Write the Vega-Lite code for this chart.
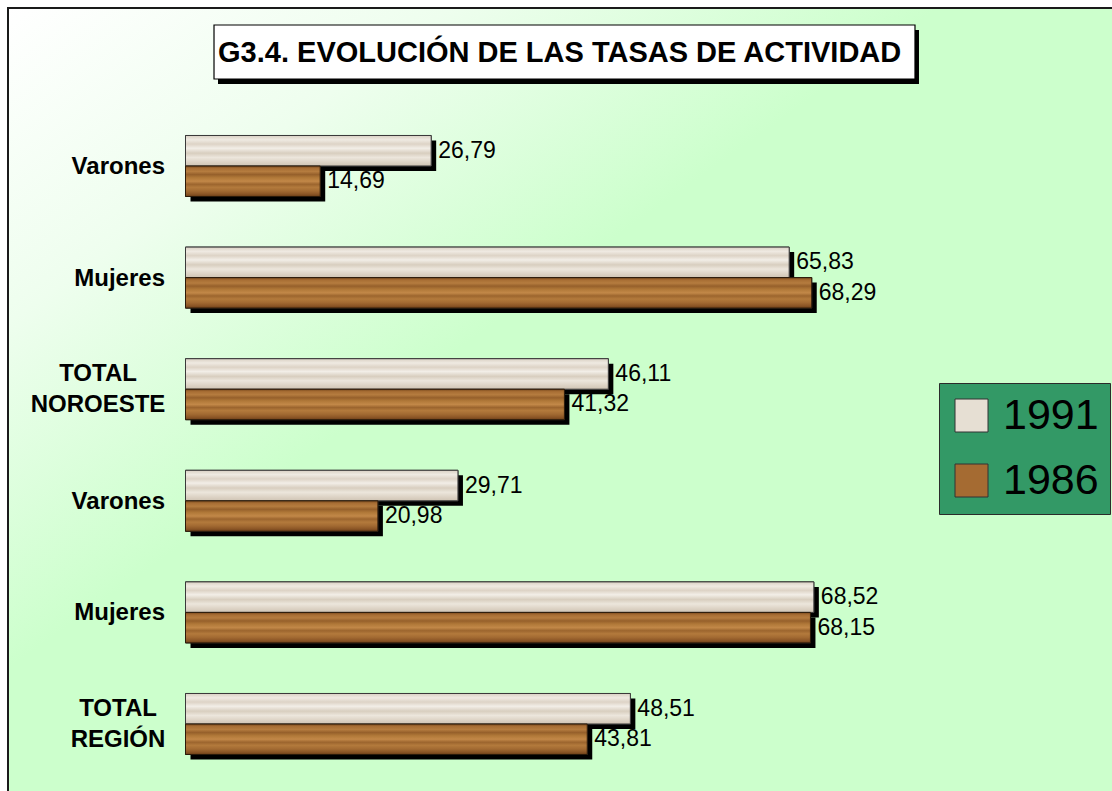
{
  "$schema": "https://vega.github.io/schema/vega-lite/v6.json",
  "autosize": "none",
  "width": 1108,
  "height": 787,
  "padding": {"left": 8, "top": 8, "right": -4, "bottom": -4},
  "background": "#ffffff",
  "view": {
    "fill": {"gradient": "linear", "x1": 0, "y1": 0, "x2": 1, "y2": 1,
      "stops": [
        {"offset": 0, "color": "#ffffff"},
        {"offset": 0.2, "color": "#eefeee"},
        {"offset": 0.42, "color": "#ccffcc"},
        {"offset": 1, "color": "#ccffcc"}
      ]},
    "stroke": "#1a1a1a",
    "strokeWidth": 2
  },
  "config": {
    "font": "Liberation Sans",
    "locale": {"number": {"decimal": ",", "thousands": ".", "grouping": [3], "currency": ["", " €"]}}
  },
  "data": {"values": [
    {"cat": "Varones|Noroeste", "anio": "1991", "tasa": 26.79},
    {"cat": "Varones|Noroeste", "anio": "1986", "tasa": 14.69},
    {"cat": "Mujeres|Noroeste", "anio": "1991", "tasa": 65.83},
    {"cat": "Mujeres|Noroeste", "anio": "1986", "tasa": 68.29},
    {"cat": "TOTAL NOROESTE", "anio": "1991", "tasa": 46.11},
    {"cat": "TOTAL NOROESTE", "anio": "1986", "tasa": 41.32},
    {"cat": "Varones|Región", "anio": "1991", "tasa": 29.71},
    {"cat": "Varones|Región", "anio": "1986", "tasa": 20.98},
    {"cat": "Mujeres|Región", "anio": "1991", "tasa": 68.52},
    {"cat": "Mujeres|Región", "anio": "1986", "tasa": 68.15},
    {"cat": "TOTAL REGIÓN", "anio": "1991", "tasa": 48.51},
    {"cat": "TOTAL REGIÓN", "anio": "1986", "tasa": 43.81}
  ]},
  "resolve": {"scale": {"y": "independent"}, "axis": {"y": "independent"}},
  "layer": [
    {
      "layer": [
        {
          "data": {"values": [{"titulo": "G3.4. EVOLUCIÓN DE LAS TASAS DE ACTIVIDAD"}]},
          "mark": {"type": "bar", "color": "#000000", "height": {"band": 0.885}, "yOffset": -2.4, "xOffset": 4, "x2Offset": 4},
          "encoding": {
            "x": {"datum": 3.108, "type": "quantitative", "scale": {"domain": [-19.357, 101.47], "nice": false}, "axis": null},
            "x2": {"datum": 79.55},
            "y": {
              "datum": "TITLE", "type": "nominal", "axis": null,
              "scale": {"domain": ["TITLE", "Varones|Noroeste", "Mujeres|Noroeste", "TOTAL NOROESTE", "Varones|Región", "Mujeres|Región", "TOTAL REGIÓN"], "paddingInner": 0.4534, "paddingOuter": 0.25269, "align": 0.3706, "round": false}
            }
          }
        },
        {
          "mark": {"type": "bar", "color": "#000000", "xOffset": 5, "x2Offset": 5},
          "encoding": {
            "x": {"field": "tasa", "type": "quantitative", "scale": {"domain": [-19.357, 101.47], "nice": false}, "axis": null},
            "y": {
              "field": "cat", "type": "nominal", "axis": null,
              "scale": {"domain": ["TITLE", "Varones|Noroeste", "Mujeres|Noroeste", "TOTAL NOROESTE", "Varones|Región", "Mujeres|Región", "TOTAL REGIÓN"], "paddingInner": 0.4534, "paddingOuter": 0.25269, "align": 0.3706, "round": false}
            },
            "yOffset": {"field": "anio", "type": "nominal", "scale": {"domain": ["1991", "1986"], "paddingInner": 0, "paddingOuter": 0}}
          }
        }
      ]
    },
    {
      "layer": [
        {
          "data": {"values": [{"titulo": "G3.4. EVOLUCIÓN DE LAS TASAS DE ACTIVIDAD"}]},
          "mark": {"type": "bar", "fill": "#ffffff", "stroke": "#000000", "strokeWidth": 1.2, "height": {"band": 0.885}, "yOffset": -2.4},
          "encoding": {
            "x": {"datum": 3.108, "type": "quantitative", "scale": {"domain": [-19.357, 101.47], "nice": false}, "axis": null},
            "x2": {"datum": 79.55},
            "y": {
              "datum": "TITLE", "type": "nominal",
              "scale": {"domain": ["TITLE", "Varones|Noroeste", "Mujeres|Noroeste", "TOTAL NOROESTE", "Varones|Región", "Mujeres|Región", "TOTAL REGIÓN"], "paddingInner": 0.4534, "paddingOuter": 0.25269, "align": 0.2819, "round": false},
              "axis": {
                "title": null, "orient": "left", "offset": -177.5, "domain": false, "ticks": false, "tickSize": 0, "grid": false,
                "labelFontSize": 24, "labelFont": "Liberation Sans", "labelFontWeight": "bold", "labelColor": "#000000",
                "labelLineHeight": 31, "labelOverlap": false, "labelLimit": 300,
                "labelAlign": {"condition": {"test": "indexof(datum.value, 'TOTAL') == 0", "value": "center"}, "value": "right"},
                "labelPadding": {"condition": [{"test": "datum.value == 'TOTAL NOROESTE'", "value": 88}, {"test": "datum.value == 'TOTAL REGIÓN'", "value": 68}], "value": 21},
                "labelOffset": {"condition": {"test": "indexof(datum.value, 'TOTAL') == 0", "value": -15}, "value": 1},
                "labelExpr": "datum.value == 'TITLE' ? '' : (indexof(datum.value, '|') > 0 ? substring(datum.value, 0, indexof(datum.value, '|')) : split(datum.value, ' '))"
              }
            }
          }
        },
        {
          "data": {"values": [{"titulo": "G3.4. EVOLUCIÓN DE LAS TASAS DE ACTIVIDAD"}]},
          "mark": {"type": "text", "font": "Liberation Sans", "fontSize": 29, "fontWeight": "bold", "align": "center", "baseline": "middle", "color": "#000000", "yOffset": -1.4},
          "encoding": {
            "x": {"datum": 40.8, "type": "quantitative", "scale": {"domain": [-19.357, 101.47], "nice": false}, "axis": null},
            "y": {
              "datum": "TITLE", "type": "nominal",
              "scale": {"domain": ["TITLE", "Varones|Noroeste", "Mujeres|Noroeste", "TOTAL NOROESTE", "Varones|Región", "Mujeres|Región", "TOTAL REGIÓN"], "paddingInner": 0.4534, "paddingOuter": 0.25269, "align": 0.2819, "round": false},
              "axis": {
                "title": null, "orient": "left", "offset": -177.5, "domain": false, "ticks": false, "tickSize": 0, "grid": false,
                "labelFontSize": 24, "labelFont": "Liberation Sans", "labelFontWeight": "bold", "labelColor": "#000000",
                "labelLineHeight": 31, "labelOverlap": false, "labelLimit": 300,
                "labelAlign": {"condition": {"test": "indexof(datum.value, 'TOTAL') == 0", "value": "center"}, "value": "right"},
                "labelPadding": {"condition": [{"test": "datum.value == 'TOTAL NOROESTE'", "value": 88}, {"test": "datum.value == 'TOTAL REGIÓN'", "value": 68}], "value": 21},
                "labelOffset": {"condition": {"test": "indexof(datum.value, 'TOTAL') == 0", "value": -15}, "value": 1},
                "labelExpr": "datum.value == 'TITLE' ? '' : (indexof(datum.value, '|') > 0 ? substring(datum.value, 0, indexof(datum.value, '|')) : split(datum.value, ' '))"
              }
            },
            "text": {"field": "titulo"}
          }
        },
        {
          "mark": {"type": "bar", "stroke": "#2a2a2a", "strokeWidth": 1},
          "encoding": {
            "x": {"field": "tasa", "type": "quantitative", "scale": {"domain": [-19.357, 101.47], "nice": false}, "axis": null},
            "y": {
              "field": "cat", "type": "nominal",
              "scale": {"domain": ["TITLE", "Varones|Noroeste", "Mujeres|Noroeste", "TOTAL NOROESTE", "Varones|Región", "Mujeres|Región", "TOTAL REGIÓN"], "paddingInner": 0.4534, "paddingOuter": 0.25269, "align": 0.2819, "round": false},
              "axis": {
                "title": null, "orient": "left", "offset": -177.5, "domain": false, "ticks": false, "tickSize": 0, "grid": false,
                "labelFontSize": 24, "labelFont": "Liberation Sans", "labelFontWeight": "bold", "labelColor": "#000000",
                "labelLineHeight": 31, "labelOverlap": false, "labelLimit": 300,
                "labelAlign": {"condition": {"test": "indexof(datum.value, 'TOTAL') == 0", "value": "center"}, "value": "right"},
                "labelPadding": {"condition": [{"test": "datum.value == 'TOTAL NOROESTE'", "value": 88}, {"test": "datum.value == 'TOTAL REGIÓN'", "value": 68}], "value": 21},
                "labelOffset": {"condition": {"test": "indexof(datum.value, 'TOTAL') == 0", "value": -15}, "value": 1},
                "labelExpr": "datum.value == 'TITLE' ? '' : (indexof(datum.value, '|') > 0 ? substring(datum.value, 0, indexof(datum.value, '|')) : split(datum.value, ' '))"
              }
            },
            "yOffset": {"field": "anio", "type": "nominal", "scale": {"domain": ["1991", "1986"], "paddingInner": 0, "paddingOuter": 0}},
            "color": {
              "field": "anio", "type": "nominal",
              "scale": {"domain": ["1991", "1986"], "range": ["#e6dfd3", "#a56b32"]},
              "legend": {
                "orient": "none", "legendX": 931, "legendY": 375, "title": null,
                "fillColor": "#339966", "strokeColor": "#2b2b2b", "padding": 11,
                "symbolType": "square", "symbolSize": 1089, "symbolStrokeColor": "#333333", "symbolStrokeWidth": 1, "symbolOpacity": 1,
                "labelFontSize": 43, "labelFont": "Liberation Sans", "labelColor": "#000000", "labelOffset": 10, "rowPadding": 21, "labelLimit": 300
              }
            }
          }
        },
        {
          "transform": [{"filter": "datum.anio == '1991'"}],
          "mark": {
            "type": "bar", "stroke": "#3a3a3a", "strokeWidth": 1,
            "color": {"gradient": "linear", "x1": 0, "y1": 0, "x2": 0, "y2": 1,
              "stops": [
                {"offset": 0, "color": "#d9d0c3"},
                {"offset": 0.14, "color": "#efeae2"},
                {"offset": 0.28, "color": "#ddd3c6"},
                {"offset": 0.42, "color": "#f2eee7"},
                {"offset": 0.58, "color": "#d8cebf"},
                {"offset": 0.72, "color": "#ece6dc"},
                {"offset": 0.88, "color": "#dcd2c4"},
                {"offset": 1, "color": "#cfc4b4"}
              ]}
          },
          "encoding": {
            "x": {"field": "tasa", "type": "quantitative", "scale": {"domain": [-19.357, 101.47], "nice": false}, "axis": null},
            "y": {
              "field": "cat", "type": "nominal",
              "scale": {"domain": ["TITLE", "Varones|Noroeste", "Mujeres|Noroeste", "TOTAL NOROESTE", "Varones|Región", "Mujeres|Región", "TOTAL REGIÓN"], "paddingInner": 0.4534, "paddingOuter": 0.25269, "align": 0.2819, "round": false},
              "axis": {
                "title": null, "orient": "left", "offset": -177.5, "domain": false, "ticks": false, "tickSize": 0, "grid": false,
                "labelFontSize": 24, "labelFont": "Liberation Sans", "labelFontWeight": "bold", "labelColor": "#000000",
                "labelLineHeight": 31, "labelOverlap": false, "labelLimit": 300,
                "labelAlign": {"condition": {"test": "indexof(datum.value, 'TOTAL') == 0", "value": "center"}, "value": "right"},
                "labelPadding": {"condition": [{"test": "datum.value == 'TOTAL NOROESTE'", "value": 88}, {"test": "datum.value == 'TOTAL REGIÓN'", "value": 68}], "value": 21},
                "labelOffset": {"condition": {"test": "indexof(datum.value, 'TOTAL') == 0", "value": -15}, "value": 1},
                "labelExpr": "datum.value == 'TITLE' ? '' : (indexof(datum.value, '|') > 0 ? substring(datum.value, 0, indexof(datum.value, '|')) : split(datum.value, ' '))"
              }
            },
            "yOffset": {"field": "anio", "type": "nominal", "scale": {"domain": ["1991", "1986"], "paddingInner": 0, "paddingOuter": 0}}
          }
        },
        {
          "transform": [{"filter": "datum.anio == '1986'"}],
          "mark": {
            "type": "bar", "stroke": "#2a1a0a", "strokeWidth": 1,
            "color": {"gradient": "linear", "x1": 0, "y1": 0, "x2": 0, "y2": 1,
              "stops": [
                {"offset": 0, "color": "#7a4a1e"},
                {"offset": 0.08, "color": "#a86e34"},
                {"offset": 0.18, "color": "#b57c3f"},
                {"offset": 0.28, "color": "#96602b"},
                {"offset": 0.38, "color": "#b07838"},
                {"offset": 0.5, "color": "#c28848"},
                {"offset": 0.6, "color": "#9c652e"},
                {"offset": 0.7, "color": "#b37a3c"},
                {"offset": 0.82, "color": "#a26a32"},
                {"offset": 0.92, "color": "#8c5626"},
                {"offset": 1, "color": "#6e4019"}
              ]}
          },
          "encoding": {
            "x": {"field": "tasa", "type": "quantitative", "scale": {"domain": [-19.357, 101.47], "nice": false}, "axis": null},
            "y": {
              "field": "cat", "type": "nominal",
              "scale": {"domain": ["TITLE", "Varones|Noroeste", "Mujeres|Noroeste", "TOTAL NOROESTE", "Varones|Región", "Mujeres|Región", "TOTAL REGIÓN"], "paddingInner": 0.4534, "paddingOuter": 0.25269, "align": 0.2819, "round": false},
              "axis": {
                "title": null, "orient": "left", "offset": -177.5, "domain": false, "ticks": false, "tickSize": 0, "grid": false,
                "labelFontSize": 24, "labelFont": "Liberation Sans", "labelFontWeight": "bold", "labelColor": "#000000",
                "labelLineHeight": 31, "labelOverlap": false, "labelLimit": 300,
                "labelAlign": {"condition": {"test": "indexof(datum.value, 'TOTAL') == 0", "value": "center"}, "value": "right"},
                "labelPadding": {"condition": [{"test": "datum.value == 'TOTAL NOROESTE'", "value": 88}, {"test": "datum.value == 'TOTAL REGIÓN'", "value": 68}], "value": 21},
                "labelOffset": {"condition": {"test": "indexof(datum.value, 'TOTAL') == 0", "value": -15}, "value": 1},
                "labelExpr": "datum.value == 'TITLE' ? '' : (indexof(datum.value, '|') > 0 ? substring(datum.value, 0, indexof(datum.value, '|')) : split(datum.value, ' '))"
              }
            },
            "yOffset": {"field": "anio", "type": "nominal", "scale": {"domain": ["1991", "1986"], "paddingInner": 0, "paddingOuter": 0}}
          }
        },
        {
          "mark": {"type": "text", "font": "Liberation Sans", "fontSize": 23, "align": "left", "baseline": "middle", "dx": 7, "color": "#000000"},
          "encoding": {
            "x": {"field": "tasa", "type": "quantitative", "scale": {"domain": [-19.357, 101.47], "nice": false}, "axis": null},
            "y": {
              "field": "cat", "type": "nominal",
              "scale": {"domain": ["TITLE", "Varones|Noroeste", "Mujeres|Noroeste", "TOTAL NOROESTE", "Varones|Región", "Mujeres|Región", "TOTAL REGIÓN"], "paddingInner": 0.4534, "paddingOuter": 0.25269, "align": 0.2819, "round": false},
              "axis": {
                "title": null, "orient": "left", "offset": -177.5, "domain": false, "ticks": false, "tickSize": 0, "grid": false,
                "labelFontSize": 24, "labelFont": "Liberation Sans", "labelFontWeight": "bold", "labelColor": "#000000",
                "labelLineHeight": 31, "labelOverlap": false, "labelLimit": 300,
                "labelAlign": {"condition": {"test": "indexof(datum.value, 'TOTAL') == 0", "value": "center"}, "value": "right"},
                "labelPadding": {"condition": [{"test": "datum.value == 'TOTAL NOROESTE'", "value": 88}, {"test": "datum.value == 'TOTAL REGIÓN'", "value": 68}], "value": 21},
                "labelOffset": {"condition": {"test": "indexof(datum.value, 'TOTAL') == 0", "value": -15}, "value": 1},
                "labelExpr": "datum.value == 'TITLE' ? '' : (indexof(datum.value, '|') > 0 ? substring(datum.value, 0, indexof(datum.value, '|')) : split(datum.value, ' '))"
              }
            },
            "yOffset": {"field": "anio", "type": "nominal", "scale": {"domain": ["1991", "1986"], "paddingInner": 0, "paddingOuter": 0}},
            "text": {"field": "tasa", "type": "quantitative", "format": ".2f"}
          }
        }
      ]
    }
  ]
}
